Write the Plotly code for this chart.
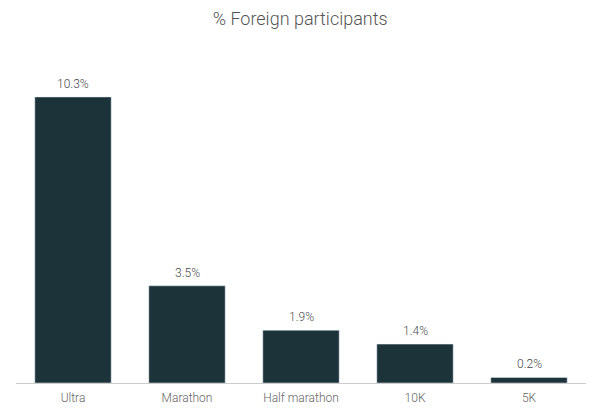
import plotly.graph_objects as go

categories = ["Ultra", "Marathon", "Half marathon", "10K", "5K"]
values = [10.3, 3.5, 1.9, 1.4, 0.2]
labels = ["10.3%", "3.5%", "1.9%", "1.4%", "0.2%"]

fig = go.Figure(go.Bar(
    x=categories, y=values,
    marker_color="#1c333a", cliponaxis=False,
))
for c, v, t in zip(categories, values, labels):
    fig.add_annotation(x=c, y=v, text=t, showarrow=False, yanchor="bottom", yshift=4,
                       font=dict(family="Roboto", size=12, color="#4a4a4a", weight=300))
fig.update_layout(
    width=600, height=409,
    margin=dict(l=8, r=22, t=52, b=34),
    plot_bgcolor="white", paper_bgcolor="white",
    bargap=0.33,
    showlegend=False,
    title=dict(text="% Foreign participants", x=0.487, xanchor="center", y=0.974, yanchor="middle",
               font=dict(family="Roboto", size=18, color="#555555", weight=300)),
    font=dict(family="Roboto", size=12, color="#666666", weight=300),
)
fig.update_xaxes(showline=True, linecolor="#cccccc", linewidth=1, ticks="", showgrid=False,
                 ticklabelstandoff=4,
                 tickfont=dict(family="Roboto", size=12, color="#666666", weight=300))
fig.update_yaxes(visible=False, range=[0, 11.63], showgrid=False)
fig.write_html("out.html", config={"displayModeBar": False})
